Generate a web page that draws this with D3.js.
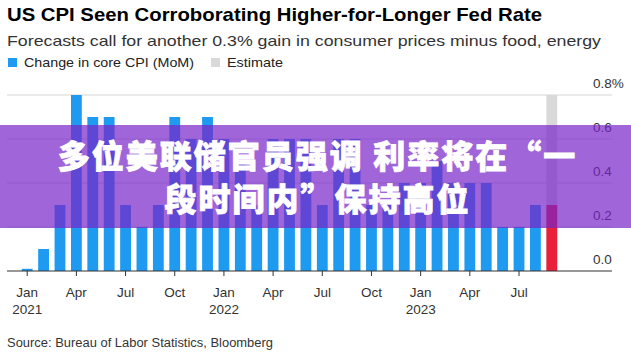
<!DOCTYPE html>
<html>
<head>
<meta charset="utf-8">
<script src="https://cdn.jsdelivr.net/npm/d3@7"></script>
<style>
  body { margin: 0; background: #fff; }
  text { font-family: "Liberation Sans", Arial, sans-serif; }
</style>
</head>
<body>
<div id="graph"></div>
<script>
// monthly core CPI change, Jan 2021 - Aug 2023, then the Sep 2023 estimate
const months = ["2021-01","2021-02","2021-03","2021-04","2021-05","2021-06","2021-07","2021-08","2021-09","2021-10","2021-11","2021-12",
  "2022-01","2022-02","2022-03","2022-04","2022-05","2022-06","2022-07","2022-08","2022-09","2022-10","2022-11","2022-12",
  "2023-01","2023-02","2023-03","2023-04","2023-05","2023-06","2023-07","2023-08","2023-09"];
const coreCpi = [0.01, 0.1, 0.3, 0.8, 0.7, 0.7, 0.3, 0.2, 0.3, 0.7, 0.6, 0.7,
  0.6, 0.5, 0.3, 0.6, 0.6, 0.6, 0.3, 0.6, 0.6, 0.3, 0.3, 0.4,
  0.4, 0.5, 0.4, 0.4, 0.4, 0.2, 0.2, 0.3, null];
const estimateMonth = "2023-09";
const estimateValue = 0.3;
const yTicks = [0, 0.2, 0.4, 0.6, 0.8];
const tickMonths = ["2021-01","2021-04","2021-07","2021-10","2022-01","2022-04","2022-07","2022-10","2023-01","2023-04","2023-07"];
const monthNames = {"01": "Jan", "04": "Apr", "07": "Jul", "10": "Oct"};
const legendItems = [{label: "Change in core CPI (MoM)", color: "#1e9bf0"}, {label: "Estimate", color: "#d9d9d9"}];
const overlayLines = ["多位美联储官员强调 利率将在“一", "段时间内”保持高位"];

const width = 631, height = 354;
const svg = d3.select("#graph").append("svg")
    .attr("width", width)
    .attr("height", height);

// titles
svg.append("text").attr("x", 7).attr("y", 21)
    .attr("font-size", 19).attr("font-weight", "bold").attr("fill", "#000")
    .attr("textLength", 535).attr("lengthAdjust", "spacingAndGlyphs")
    .text("US CPI Seen Corroborating Higher-for-Longer Fed Rate");
svg.append("text").attr("x", 7).attr("y", 46)
    .attr("font-size", 15).attr("fill", "#333")
    .attr("textLength", 594).attr("lengthAdjust", "spacingAndGlyphs")
    .text("Forecasts call for another 0.3% gain in consumer prices minus food, energy");

// legend
const legendX = [8, 211], legendW = [170, 56];
legendItems.forEach(function(d, i) {
  svg.append("rect").attr("x", legendX[i]).attr("y", 58).attr("width", 9).attr("height", 9).attr("fill", d.color);
  svg.append("text").attr("x", legendX[i] + 16).attr("y", 67)
      .attr("font-size", 13.5).attr("fill", "#222")
      .attr("textLength", legendW[i]).attr("lengthAdjust", "spacingAndGlyphs")
      .text(d.label);
});

const x = d3.scaleBand()
    .domain(months)
    .range([19, 560])
    .paddingInner(0.34)
    .paddingOuter(0.17);
const y = d3.scaleLinear()
    .domain([0, 0.8])
    .range([271, 95]);

// grid + right labels
svg.selectAll(".grid")
    .data(yTicks.filter(function(d) { return d > 0; }))
    .enter().append("line")
    .attr("x1", 7).attr("x2", 612)
    .attr("y1", function(d) { return y(d); }).attr("y2", function(d) { return y(d); })
    .attr("stroke", "#e3e3e3").attr("stroke-width", 1.5);
svg.selectAll(".ylab")
    .data(yTicks)
    .enter().append("text")
    .attr("x", 593)
    .attr("y", function(d) { return y(d) - 7; })
    .attr("font-size", 13.5).attr("fill", "#333")
    .text(function(d) { return d === 0.8 ? "0.8%" : d.toFixed(1); });

// estimate background + value
svg.append("rect")
    .attr("x", x(estimateMonth)).attr("width", x.bandwidth())
    .attr("y", y(0.8)).attr("height", y(0) - y(0.8))
    .attr("fill", "#d9d9d9");
svg.append("rect")
    .attr("x", x(estimateMonth)).attr("width", x.bandwidth())
    .attr("y", y(estimateValue)).attr("height", y(0) - y(estimateValue))
    .attr("fill", "#e8203a");

// bars
svg.selectAll(".bar")
    .data(months.map(function(m, i) { return {m: m, v: coreCpi[i]}; }).filter(function(d) { return d.v !== null; }))
    .enter().append("rect")
    .attr("class", "bar")
    .attr("x", function(d) { return x(d.m); })
    .attr("width", x.bandwidth())
    .attr("y", function(d) { return y(d.v); })
    .attr("height", function(d) { return y(0) - y(d.v); })
    .attr("fill", "#1e9bf0");

// baseline + x ticks
svg.append("line").attr("x1", 7).attr("x2", 612).attr("y1", y(0)).attr("y2", y(0))
    .attr("stroke", "#333").attr("stroke-width", 1.2);
const tx = function(m) { return x(m) + x.bandwidth() / 2; };
svg.selectAll(".tick")
    .data(tickMonths)
    .enter().append("line")
    .attr("x1", tx).attr("x2", tx)
    .attr("y1", y(0)).attr("y2", y(0) + 5)
    .attr("stroke", "#333");
svg.selectAll(".xlab")
    .data(tickMonths)
    .enter().append("text")
    .attr("x", tx).attr("y", 297)
    .attr("text-anchor", "middle").attr("font-size", 13.5).attr("fill", "#333")
    .text(function(m) { return monthNames[m.slice(5)]; });
svg.selectAll(".xyear")
    .data(tickMonths.filter(function(m) { return m.slice(5) === "01"; }))
    .enter().append("text")
    .attr("x", tx).attr("y", 314)
    .attr("text-anchor", "middle").attr("font-size", 13.5).attr("fill", "#333")
    .text(function(m) { return m.slice(0, 4); });

// source
svg.append("text").attr("x", 7).attr("y", 347)
    .attr("font-size", 12.5).attr("fill", "#333")
    .attr("textLength", 266).attr("lengthAdjust", "spacingAndGlyphs")
    .text("Source: Bureau of Labor Statistics, Bloomberg");

// purple headline band on top
svg.append("rect").attr("x", 0).attr("y", 125).attr("width", width).attr("height", 103)
    .attr("fill", "rgb(119,36,199)").attr("fill-opacity", 0.7);
svg.selectAll(".headline")
    .data(overlayLines)
    .enter().append("text")
    .attr("x", width / 2 + 2)
    .attr("y", function(d, i) { return 168 + i * 43; })
    .attr("text-anchor", "middle")
    .style("font-family", "'Noto Sans CJK SC', sans-serif")
    .style("letter-spacing", "2px")
    .attr("font-size", 32).attr("font-weight", 900).attr("fill", "#fff")
    .attr("stroke", "#fff").attr("stroke-width", 0.8)
    .text(function(d) { return d; });
</script>
</body>
</html>
